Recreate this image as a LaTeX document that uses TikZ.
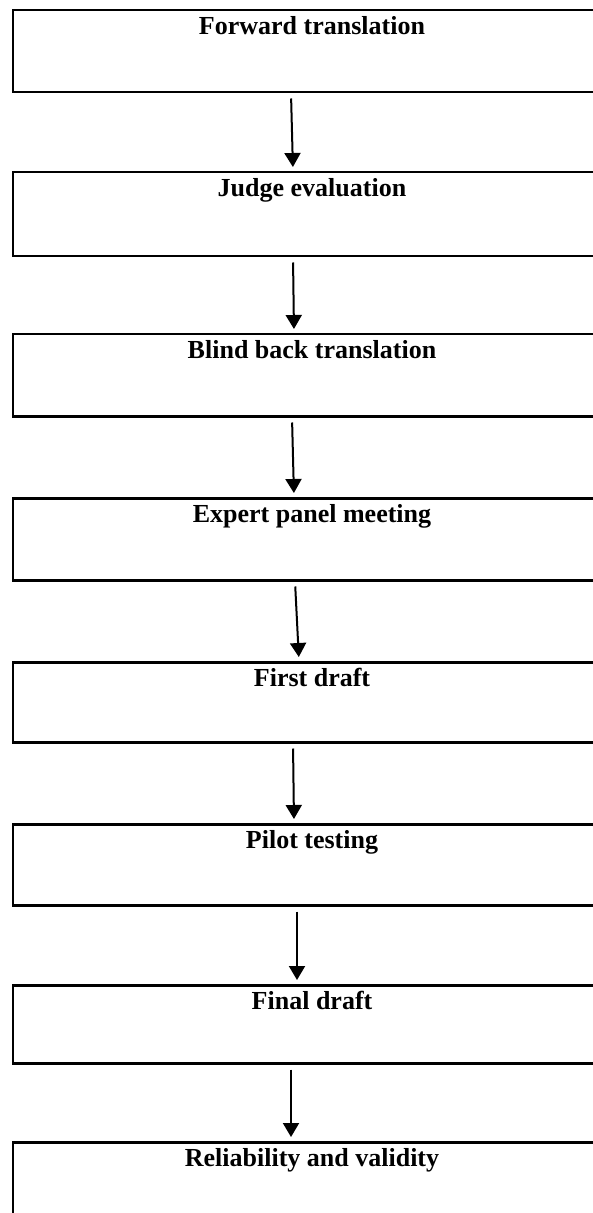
\documentclass[tikz,border=0pt]{standalone}
\usepackage{fontspec}
\setmainfont{Liberation Serif}
\usetikzlibrary{arrows.meta}
\begin{document}
\begin{tikzpicture}[
x=0.5pt,y=-0.5pt,
stage/.style={
	rectangle,draw=black,line width=1.25pt,inner sep=0pt,
	minimum width=299pt,text height=12pt,anchor=north,
	font=\fontsize{13}{15}\selectfont\bfseries},
flow/.style={-{Triangle[length=7pt,width=8pt]},line width=1pt,
	shorten <=2.5pt,shorten >=2pt}
]
\useasboundingbox (0,0) rectangle (593,1213);
\clip (0,0) rectangle (593,1213);

\node[stage,text depth=29pt] (fwd) at (312,9) {Forward translation};
\node[stage,text depth=30pt] (judge) at (312,171) {Judge evaluation};
\node[stage,text depth=29pt] (blind) at (312,333) {Blind back translation};
\node[stage,text depth=29pt] (panel) at (312,497) {Expert panel meeting};
\node[stage,text depth=28pt] (draft) at (312,661) {First draft};
\node[stage,text depth=28.5pt] (pilot) at (312,823) {Pilot testing};
\node[stage,text depth=27pt] (final) at (312,984) {Final draft};
\node[stage,text depth=60pt] (relval) at (312,1141) {Reliability and validity};

\draw[flow] ([xshift=-10.5pt]fwd.south) -- ([xshift=-9.5pt]judge.north);
\draw[flow] ([xshift=-9.5pt]judge.south) -- ([xshift=-9pt]blind.north);
\draw[flow] ([xshift=-10pt]blind.south) -- ([xshift=-9pt]panel.north);
\draw[flow] ([xshift=-8.5pt]panel.south) -- ([xshift=-6.5pt]draft.north);
\draw[flow] ([xshift=-9.5pt]draft.south) -- ([xshift=-9pt]pilot.north);
\draw[flow] ([xshift=-7.5pt]pilot.south) -- ([xshift=-7.5pt]final.north);
\draw[flow] ([xshift=-10.5pt]final.south) -- ([xshift=-10.5pt]relval.north);

\end{tikzpicture}
\end{document}
